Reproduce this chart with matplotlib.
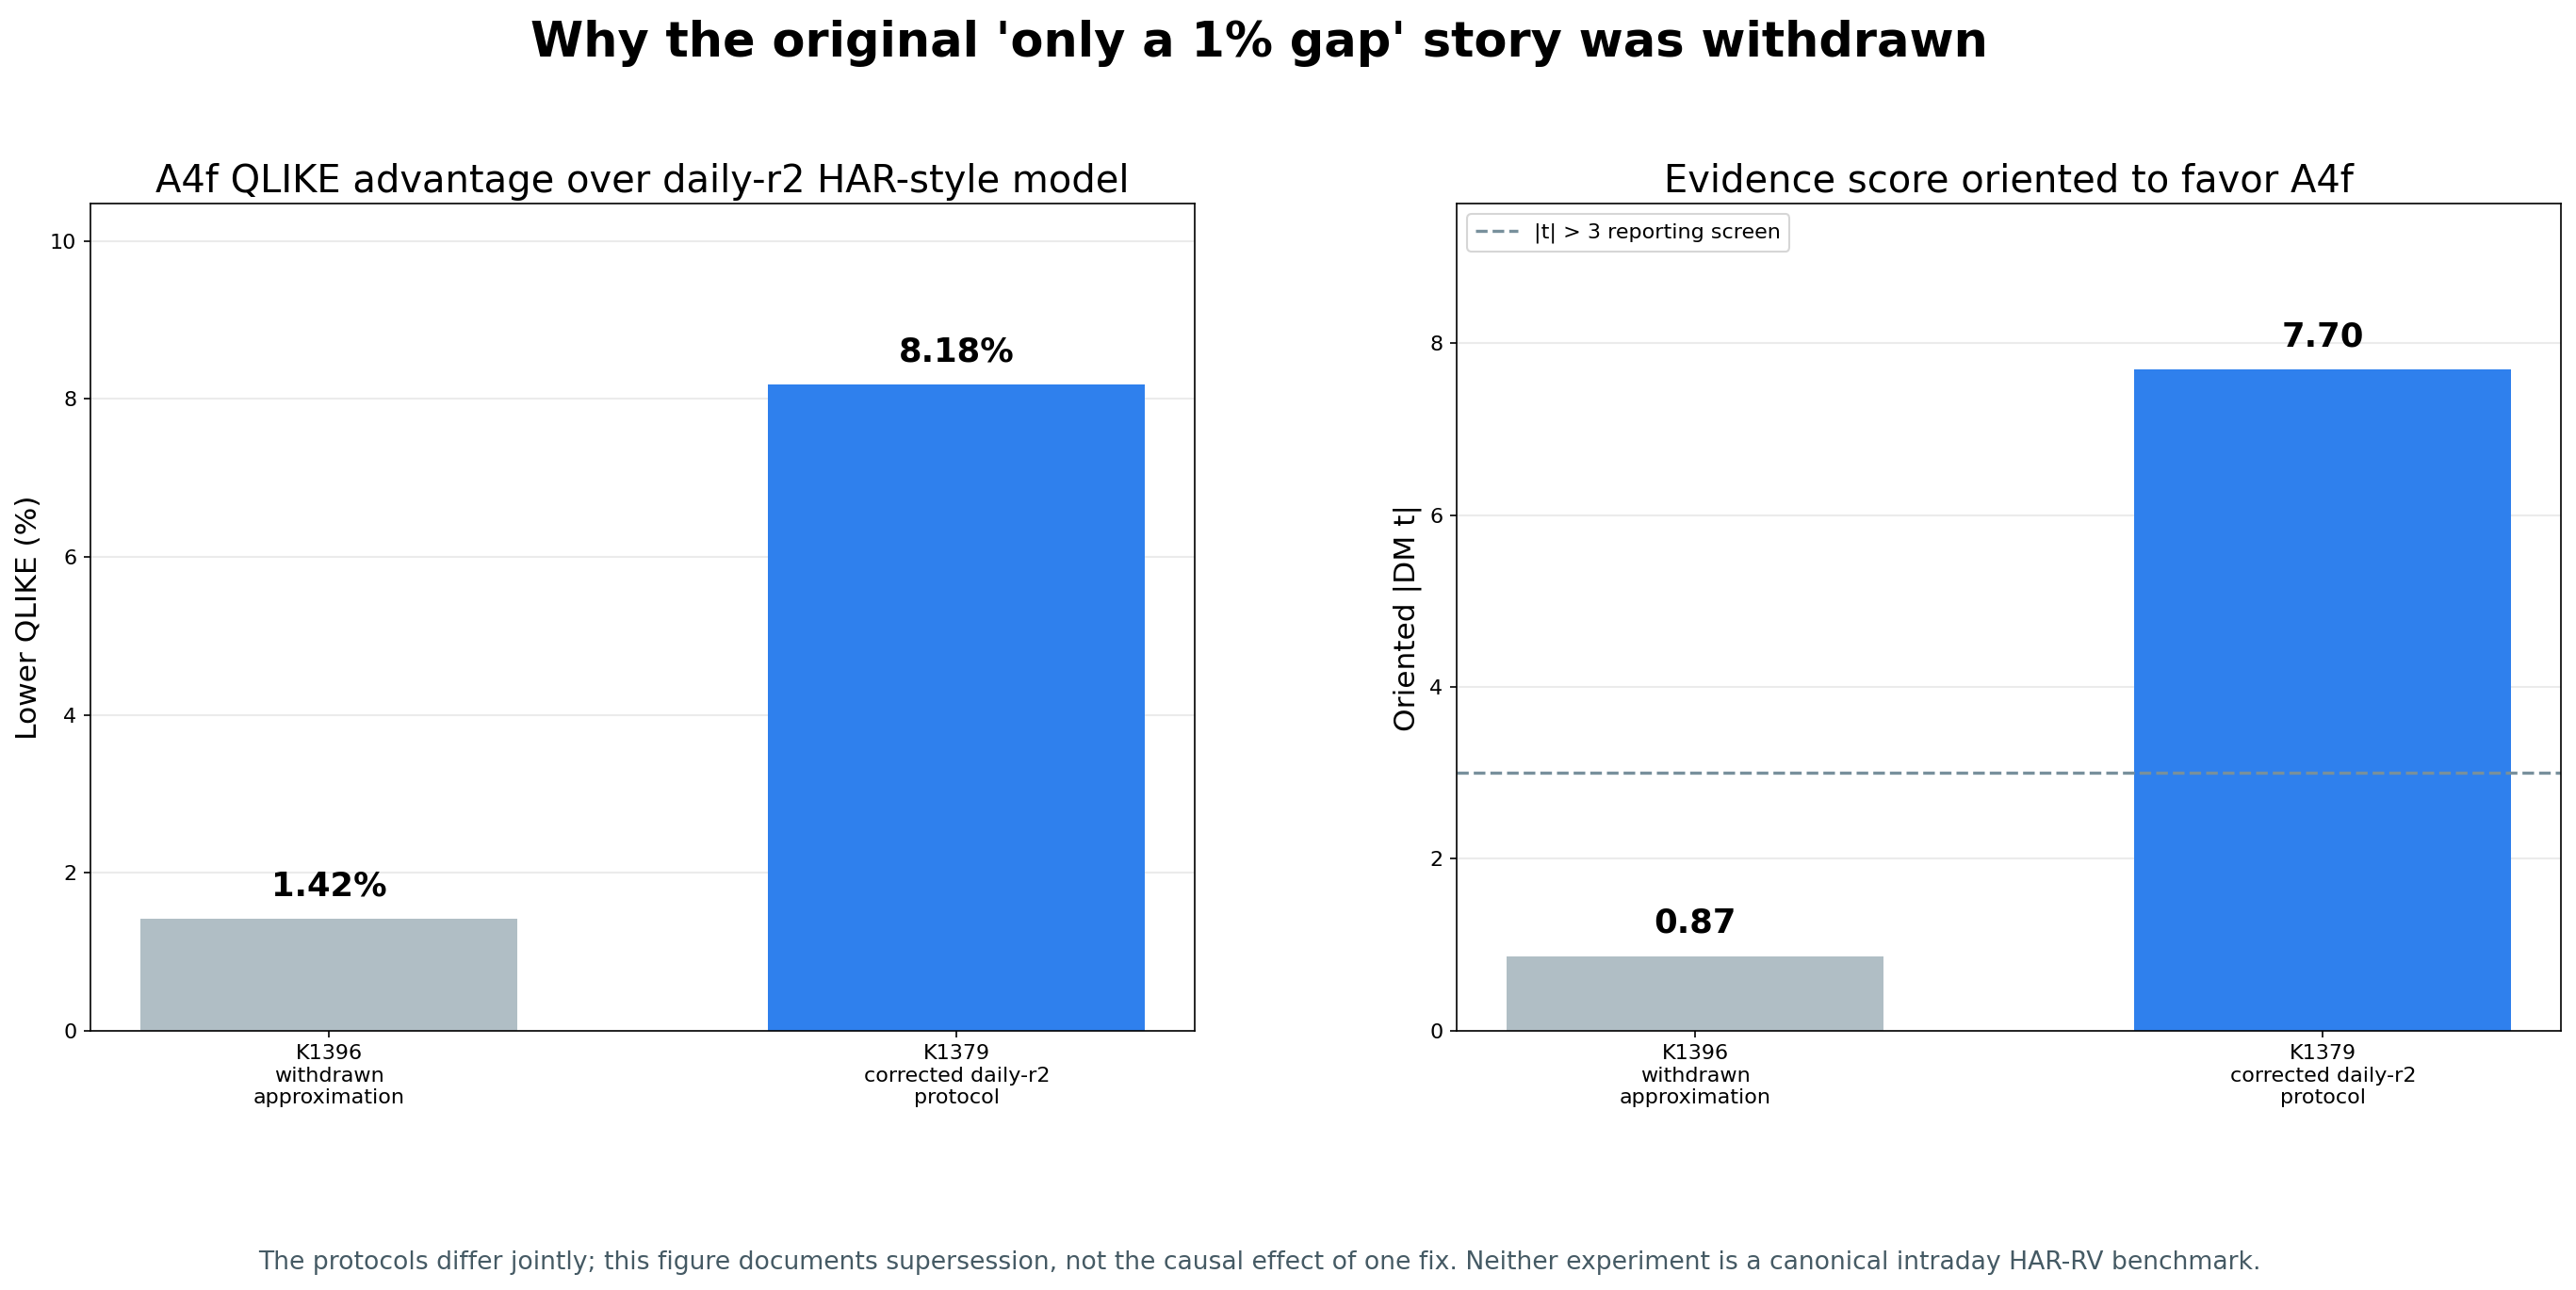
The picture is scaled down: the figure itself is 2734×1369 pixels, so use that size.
import matplotlib
matplotlib.use("Agg")
import matplotlib.pyplot as plt

# data
categories = ["K1396\nwithdrawn\napproximation", "K1379\ncorrected daily-r2\nprotocol"]
qlike_gain = [1.42, 8.18]      # lower QLIKE, %
dm_t = [0.87, 7.70]            # oriented |DM t|
screen = 3.0

bar_colors = ["#b0bec5", "#2f80ed"]

plt.rcParams["xtick.labelsize"] = 10.7
plt.rcParams["ytick.labelsize"] = 10.7

fig, axes = plt.subplots(1, 2, figsize=(2734 / 150, 1369 / 150), dpi=150)
fig.subplots_adjust(left=0.0351, right=0.9943, top=0.842, bottom=0.201, wspace=0.2366)

ax = axes[0]
x = range(len(categories))
ax.bar(x, qlike_gain, width=0.6, color=bar_colors)
ymax = max(qlike_gain) * 1.28
ax.set_ylim(0, ymax)
for i, v in enumerate(qlike_gain):
    ax.text(i, v + ymax * 0.02, f"{v:.2f}%", ha="center", va="bottom",
            fontsize=17, fontweight="bold")
ax.set_xticks(list(x))
ax.set_xticklabels(categories)
ax.set_ylabel("Lower QLIKE (%)", fontsize=15)
ax.set_title("A4f QLIKE advantage over daily-r2 HAR-style model", fontsize=19.2)
ax.yaxis.grid(True, color="#ebebeb", linewidth=1)
ax.set_axisbelow(True)

ax = axes[1]
ax.bar(x, dm_t, width=0.6, color=bar_colors)
ymax = max(dm_t) * 1.25
ax.set_ylim(0, ymax)
ax.axhline(screen, color="#78909c", linestyle="--", linewidth=1.6,
           label="|t| > 3 reporting screen")
for i, v in enumerate(dm_t):
    ax.text(i, v + ymax * 0.02, f"{v:.2f}", ha="center", va="bottom",
            fontsize=17, fontweight="bold")
ax.set_xticks(list(x))
ax.set_xticklabels(categories)
ax.set_ylabel("Oriented |DM t|", fontsize=15)
ax.set_title("Evidence score oriented to favor A4f", fontsize=19.2)
ax.yaxis.grid(True, color="#ebebeb", linewidth=1)
ax.set_axisbelow(True)
ax.legend(loc="upper left", fontsize=10.7)

fig.suptitle("Why the original 'only a 1% gap' story was withdrawn",
             fontsize=24.5, fontweight="bold", x=0.4888, y=0.985)
fig.text(0.4888, 0.016, "The protocols differ jointly; this figure documents supersession, "
         "not the causal effect of one fix. Neither experiment is a canonical intraday HAR-RV benchmark.",
         ha="center", fontsize=12.8, color="#455a64")

fig.savefig("out.png", dpi=150)
